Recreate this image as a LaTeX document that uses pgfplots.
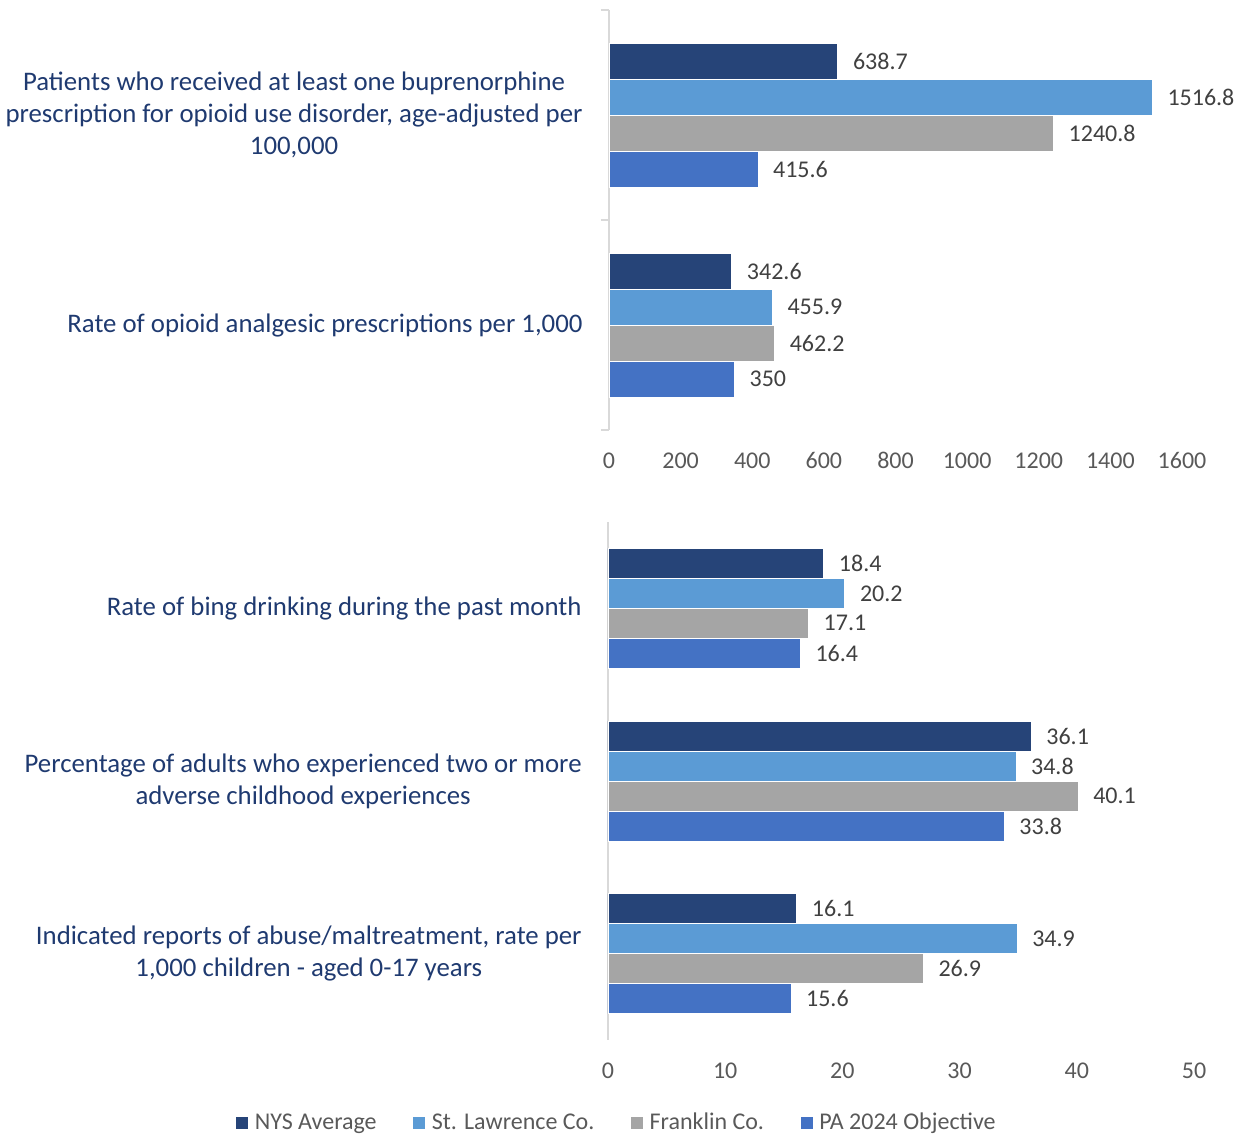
\documentclass[border=0pt]{standalone}
\usepackage{fontspec}
\setmainfont{Carlito}
\usepackage{pgfplots}
\pgfplotsset{compat=1.18}
\definecolor{cNYS}{HTML}{264478}
\definecolor{cSTL}{HTML}{5B9BD5}
\definecolor{cFR}{HTML}{A5A5A5}
\definecolor{cPA}{HTML}{4472C4}
\definecolor{navy}{HTML}{1F3A70}
\definecolor{tickgray}{HTML}{595959}
\definecolor{valgray}{HTML}{404040}
\definecolor{axisgray}{HTML}{D9D9D9}
\begin{document}
\begin{tikzpicture}
\pgfplotsset{
  common/.style={
    scale only axis, anchor=south west, clip=false,
    xbar, y dir=reverse,
    axis lines*=left,
    x axis line style={draw=none},
    y axis line style={draw=axisgray, line width=0.8pt},
    tick align=outside,
    major tick length=0pt,
    minor tick length=4pt,
    minor tick style={draw=axisgray, line width=0.8pt},
    ytick={0,1,2},
    xticklabel style={font=\fontsize{12}{14}\selectfont, text=tickgray, anchor=base, inner sep=0pt, yshift=-19.3pt},
    yticklabel style={font=\fontsize{13.4}{16}\selectfont, text=navy, align=center, anchor=east, inner sep=0pt, xshift=-13pt},
    /pgf/number format/.cd, fixed, precision=1, 1000 sep={}, assume math mode=true,
    /pgfplots/.cd,
    nodes near coords,
    every node near coord/.append style={font=\fontsize{12}{14}\selectfont, text=valgray, anchor=west, inner sep=0pt, xshift=7.5pt},
  },
}
\begin{axis}[common,
  at={(304.5pt,-215pt)},
  width=286.5pt, height=210pt,
  xmin=0, xmax=1600, xtick={0,200,...,1600},
  ymin=-0.5, ymax=1.5,
  minor ytick={-0.5,0.5,1.5},
  bar width=18pt,
  yticklabels={{Patients who received at least one buprenorphine\\prescription for opioid use disorder, age-adjusted per\\100,000},{Rate of opioid analgesic prescriptions per 1,000}},
]
\addplot[fill=cNYS, draw=white, line width=0.3pt, bar shift=27pt] coordinates {(638.7,0) (342.6,1)};
\addplot[fill=cSTL, draw=white, line width=0.3pt, bar shift=9pt] coordinates {(1516.8,0) (455.9,1)};
\addplot[fill=cFR, draw=white, line width=0.3pt, bar shift=-9pt] coordinates {(1240.8,0) (462.2,1)};
\addplot[fill=cPA, draw=white, line width=0.3pt, bar shift=-27pt] coordinates {(415.6,0) (350,1)};
\end{axis}
\begin{axis}[common,
  at={(304pt,-520pt)},
  width=293pt, height=259pt,
  xmin=0, xmax=50, xtick={0,10,...,50},
  ymin=-0.5, ymax=2.5,
  bar width=15pt,
  yticklabels={{Rate of bing drinking during the past month},{Percentage of adults who experienced two or more\\adverse childhood experiences},{Indicated reports of abuse/maltreatment, rate per\\1,000 children - aged 0-17 years}},
  legend columns=4,
  legend style={draw=none, fill=none, at={(0.016,-0.16)}, anchor=center,
    font=\fontsize{12}{14}\selectfont, text=tickgray, inner sep=0pt,
    /tikz/every even column/.append style={column sep=15.8pt},
    /tikz/every odd column/.append style={column sep=1pt}},
  legend cell align=left,
  legend image code/.code={\fill[#1] (0pt,-3.25pt) rectangle (6.5pt,3.25pt);},
]
\addplot[fill=cNYS, draw=white, line width=0.3pt, bar shift=22.5pt] coordinates {(18.4,0) (36.1,1) (16.1,2)};
\addlegendentry{NYS Average}
\addplot[fill=cSTL, draw=white, line width=0.3pt, bar shift=7.5pt] coordinates {(20.2,0) (34.8,1) (34.9,2)};
\addlegendentry{St. Lawrence Co.}
\addplot[fill=cFR, draw=white, line width=0.3pt, bar shift=-7.5pt] coordinates {(17.1,0) (40.1,1) (26.9,2)};
\addlegendentry{Franklin Co.}
\addplot[fill=cPA, draw=white, line width=0.3pt, bar shift=-22.5pt] coordinates {(16.4,0) (33.8,1) (15.6,2)};
\addlegendentry{PA 2024 Objective}
\end{axis}
\pgfresetboundingbox
\useasboundingbox (0pt,0pt) rectangle (618.5pt,-567.5pt);
\end{tikzpicture}
\end{document}
